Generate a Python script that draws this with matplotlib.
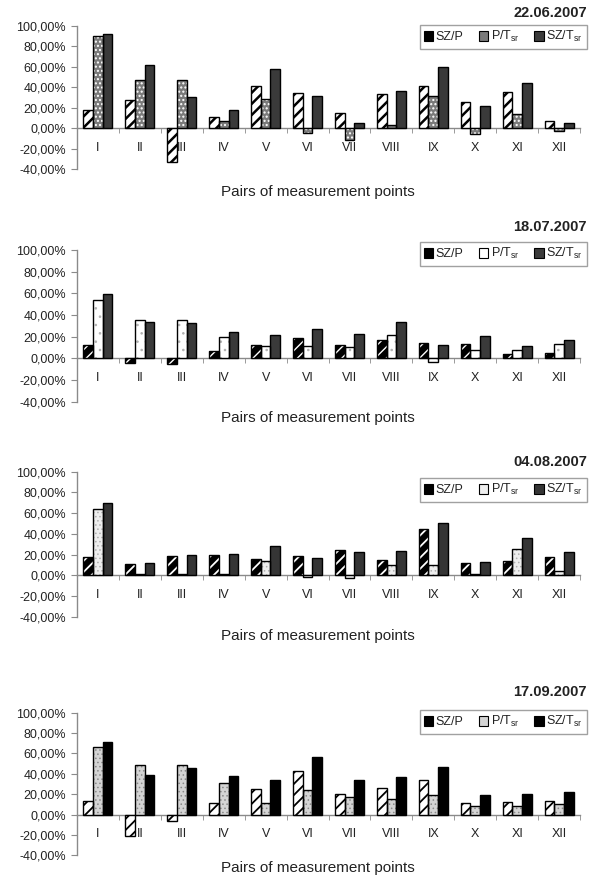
import matplotlib.pyplot as plt
from matplotlib.patches import Patch
from matplotlib.ticker import FuncFormatter
import numpy as np

plt.rcParams['font.family'] = ['Liberation Sans', 'DejaVu Sans']

categories = ["I", "II", "III", "IV", "V", "VI", "VII", "VIII", "IX", "X", "XI", "XII"]
dates = ["22.06.2007", "18.07.2007", "04.08.2007", "17.09.2007"]
series_names = ["SZ/P", r"P/T$\mathregular{_{sr}}$", r"SZ/T$\mathregular{_{sr}}$"]

# percentage differences per pair of measurement points
sz_p_2206 = [17.6, 27.4, -33.0, 11.0, 41.0, 34.6, 15.3, 33.6, 41.1, 26.1, 35.2, 7.2]
p_tsr_2206 = [90.0, 47.6, 47.6, 7.2, 29.0, -4.2, -11.7, 3.3, 31.6, -5.2, 14.4, -2.9]
sz_tsr_2206 = [91.7, 61.7, 30.7, 18.3, 58.4, 31.3, 5.5, 36.2, 60.0, 22.2, 44.4, 4.9]

sz_p_1807 = [12.0, -4.0, -5.6, 6.5, 12.7, 18.5, 12.7, 17.3, 14.2, 13.6, 3.7, 4.9]
p_tsr_1807 = [53.7, 35.8, 35.8, 19.8, 11.4, 11.1, 10.8, 21.3, -3.0, 8.0, 7.7, 13.0]
sz_tsr_1807 = [59.0, 33.6, 32.7, 24.7, 21.9, 27.5, 22.2, 33.6, 12.3, 20.4, 11.1, 17.0]

sz_p_0408 = [17.7, 10.6, 18.4, 20.0, 16.1, 19.0, 24.5, 15.2, 44.8, 11.9, 13.9, 18.0]
p_tsr_0408 = [63.9, 1.6, 1.3, 1.0, 13.5, -1.6, -2.3, 10.0, 10.0, 1.6, 25.5, 4.5]
sz_tsr_0408 = [70.0, 11.9, 19.4, 21.0, 28.0, 17.1, 22.9, 23.2, 50.0, 13.2, 35.8, 22.6]

sz_p_1709 = [13.4, -20.6, -6.2, 11.1, 25.5, 43.1, 20.3, 26.1, 34.0, 11.1, 12.4, 13.4]
p_tsr_1709 = [66.3, 49.0, 48.7, 31.0, 11.1, 24.2, 17.0, 15.4, 19.3, 8.8, 8.5, 10.1]
sz_tsr_1709 = [71.2, 38.5, 46.0, 38.2, 34.0, 56.5, 34.0, 37.2, 46.4, 19.3, 20.6, 21.9]

panel_values = [
    (sz_p_2206, p_tsr_2206, sz_tsr_2206),
    (sz_p_1807, p_tsr_1807, sz_tsr_1807),
    (sz_p_0408, p_tsr_0408, sz_tsr_0408),
    (sz_p_1709, p_tsr_1709, sz_tsr_1709),
]

# fill styles: (face, hatch, hatch colour, hatch width) for each series
panel_styles = [
    [("white", "///", "black", 1.8), ("#7a7a7a", "....", "white", 1.0), ("#3a3a3a", "", "black", 1.0)],
    [("black", "///", "white", 1.0), ("white", "..", "#b0b0b0", 0.6), ("#3a3a3a", "", "black", 1.0)],
    [("black", "///", "white", 1.3), ("#eeeeee", "....", "#b0b0b0", 0.6), ("#353535", "", "black", 1.0)],
    [("white", "///", "black", 1.3), ("#d4d4d4", "....", "#8a8a8a", 0.6), ("black", "", "black", 1.0)],
]

W, H = 597, 877
fig = plt.figure(figsize=(W / 100, H / 100), dpi=100)

# (top of 100 %, bottom of -40 %, title y, legend top, xlabel y) in pixels
panel_px = [
    (26.0, 169.3, 13, 25, 192),
    (250.0, 401.7, 227, 242, 418),
    (471.7, 616.7, 462, 478, 636),
    (712.7, 855.3, 692, 710, 868),
]
ax_left, ax_right = 77, 580
axis_grey = "#8a8a8a"
text_col = "#222222"

bar_w = 0.23
x = np.arange(len(categories))


def pct_fmt(v, pos):
    return f"{v:.2f}%".replace(".", ",")


for i, (top, bottom, title_y, leg_top, xlab_y) in enumerate(panel_px):
    ax = fig.add_axes([ax_left / W, 1 - bottom / H,
                       (ax_right - ax_left) / W, (bottom - top) / H])
    values = panel_values[i]
    styles = panel_styles[i]

    handles = []
    for k, (vals, (face, hatch, hcol, hlw)) in enumerate(zip(values, styles)):
        pos = x + (k - 1) * bar_w
        fill = ax.bar(pos, vals, bar_w, color=face, edgecolor=hcol,
                      linewidth=0, hatch=hatch, zorder=2)
        if hatch and hasattr(fill.patches[0], "set_hatch_linewidth"):
            for p in fill.patches:
                p.set_hatch_linewidth(hlw)
        ax.bar(pos, vals, bar_w, color="none", edgecolor="black",
               linewidth=1.0, zorder=3)
        handles.append(Patch(facecolor=face if k != 0 else "black",
                             edgecolor="black", linewidth=0.8,
                             label=series_names[k]))

    ax.set_xlim(-0.5, len(categories) - 0.5)
    ax.set_ylim(-40, 100)
    ax.set_yticks(np.arange(-40, 101, 20))
    ax.yaxis.set_major_formatter(FuncFormatter(pct_fmt))

    for side in ("top", "right"):
        ax.spines[side].set_visible(False)
    ax.spines["left"].set_color(axis_grey)
    ax.spines["left"].set_linewidth(1.0)
    ax.spines["bottom"].set_position(("data", 0))
    ax.spines["bottom"].set_color(axis_grey)
    ax.spines["bottom"].set_linewidth(1.0)
    ax.spines["bottom"].set_zorder(1)

    ax.set_xticks(x)
    ax.set_xticklabels(categories)
    ax.set_xticks(np.arange(-0.5, len(categories), 1.0), minor=True)
    ax.tick_params(axis="x", which="major", length=0, pad=10,
                   labelsize=9, labelcolor=text_col)
    ax.tick_params(axis="x", which="minor", length=3.5, color=axis_grey,
                   direction="out")
    ax.tick_params(axis="y", length=4, color=axis_grey, direction="out",
                   pad=4, labelsize=9, labelcolor=text_col)

    fig.text(587 / W, 1 - title_y / H, dates[i], ha="right", va="center",
             fontsize=10.5, fontweight="bold", color=text_col)
    fig.text(318 / W, 1 - xlab_y / H, "Pairs of measurement points",
             ha="center", va="center", fontsize=11, color=text_col)

    leg = ax.legend(handles=handles, loc="upper right",
                    bbox_to_anchor=(587 / W, 1 - leg_top / H),
                    bbox_transform=fig.transFigure, ncol=3, fontsize=9,
                    frameon=True, fancybox=False, borderaxespad=0,
                    handlelength=0.75, handleheight=0.75, handletextpad=0.2,
                    columnspacing=1.2, borderpad=0.35)
    leg.get_frame().set_edgecolor(axis_grey)
    leg.get_frame().set_linewidth(1.0)
    for t in leg.get_texts():
        t.set_color(text_col)

fig.savefig("out.png", dpi=100)
